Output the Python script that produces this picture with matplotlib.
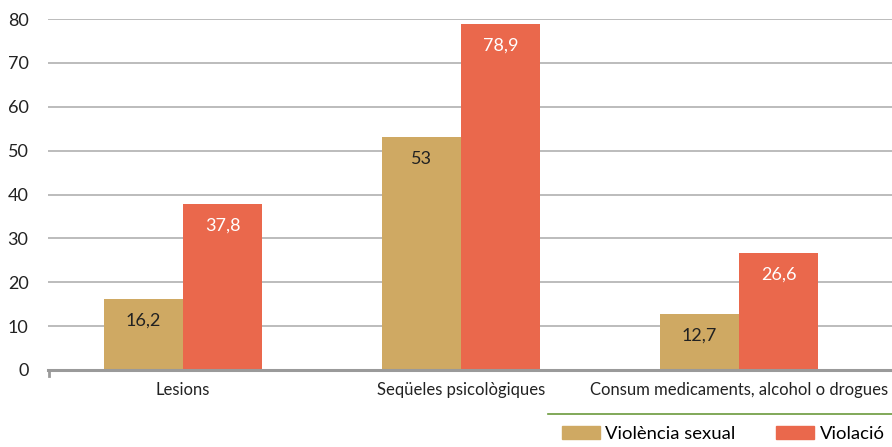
import matplotlib
matplotlib.use("Agg")
import matplotlib.pyplot as plt
from matplotlib.patches import Patch
from matplotlib.lines import Line2D
import numpy as np

categories = ["Lesions", "Seqüeles psicològiques", "Consum medicaments, alcohol o drogues"]
violencia_sexual = [16.2, 53, 12.7]
violacio = [37.8, 78.9, 26.6]
series_names = ["Violència sexual", "Violació"]
yticks = [0, 10, 20, 30, 40, 50, 60, 70, 80]

TAN = "#CFA963"
RED = "#EA684C"

plt.rcParams["font.family"] = ["Lato", "DejaVu Sans"]


def fmt(v):
    s = ("%.1f" % v).rstrip("0").rstrip(".")
    return s.replace(".", ",")


def main():
    fig = plt.figure(figsize=(8.92, 4.47), dpi=100)
    ax = fig.add_axes([48 / 892, 1 - 370 / 447, 1 - 48 / 892, (370 - 19) / 447])

    x = np.arange(len(categories))
    w = 0.285
    b1 = ax.bar(x - w / 2, violencia_sexual, w, color=TAN, zorder=3)
    b2 = ax.bar(x + w / 2, violacio, w, color=RED, zorder=3)

    for bars, vals, col in [(b1, violencia_sexual, "#222222"), (b2, violacio, "white")]:
        for r, v in zip(bars, vals):
            ax.annotate(fmt(v), (r.get_x() + r.get_width() / 2, v),
                        xytext=(0, -15.5), textcoords="offset points",
                        ha="center", va="center", fontsize=13, color=col, zorder=4)

    ax.set_xlim(-0.4856, 2.55)
    ax.set_ylim(0, 80)
    ax.set_yticks(yticks)
    ax.set_yticklabels([str(t) for t in yticks], fontsize=13, color="#222222")
    ax.set_xticks(x)
    ax.set_xticklabels(categories, fontsize=12, color="#222222")
    ax.tick_params(axis="y", length=0, pad=14)
    ax.tick_params(axis="x", length=0, pad=8.5)
    ax.grid(axis="y", color="#b0b0b0", linewidth=1.2, zorder=0)
    for s in ["top", "right", "left"]:
        ax.spines[s].set_visible(False)
    ax.spines["bottom"].set_color("#9a9a9a")
    ax.spines["bottom"].set_linewidth(2.2)
    ax.spines["bottom"].set_zorder(5)

    # small tick at the left end of the base line
    fig.add_artist(Line2D([49 / 892, 49 / 892], [1 - 370 / 447, 1 - 376 / 447],
                          color="#9a9a9a", linewidth=2))

    # green rule above the legend
    fig.add_artist(Line2D([548 / 892, 1.0], [1 - 414 / 447, 1 - 414 / 447],
                          color="#6b9a3c", linewidth=1.2))

    handles = [Patch(color=TAN), Patch(color=RED)]
    fig.legend(handles, series_names, loc="center left",
               bbox_to_anchor=(562 / 892, 1 - 434 / 447), ncol=2, frameon=False,
               fontsize=13.3, handlelength=2.05, handleheight=0.7, handletextpad=0.3,
               columnspacing=2.2, borderaxespad=0, borderpad=0)

    fig.savefig("out.png", dpi=100)


if __name__ == "__main__":
    main()
